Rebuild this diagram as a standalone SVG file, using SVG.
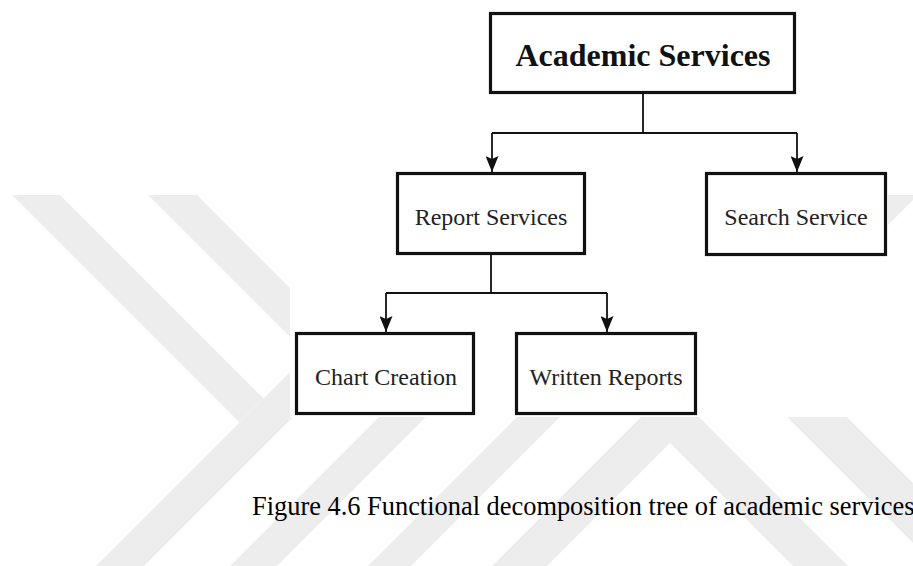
<svg xmlns="http://www.w3.org/2000/svg" width="913" height="566" viewBox="0 0 913 566">
  <defs>
    <style>
      .wm { fill: #ededed; }
      .box { fill: #ffffff; stroke: #111111; stroke-width: 3.2; }
      .lbl { font-family: "Liberation Serif", "Times New Roman", serif; font-size: 24px; fill: #222222; text-anchor: middle; }
      .title { font-family: "Liberation Serif", "Times New Roman", serif; font-size: 32px; font-weight: bold; fill: #111111; text-anchor: middle; }
      .cap { font-family: "Liberation Serif", "Times New Roman", serif; font-size: 26.4px; fill: #000000; }
      .conn { fill: none; stroke: #111111; stroke-width: 1.8; }
    </style>
    <marker id="arrow" markerUnits="userSpaceOnUse" viewBox="0 0 16 13" markerWidth="16" markerHeight="13" refX="16" refY="6.5" orient="auto">
      <path d="M0,0 L16,6.5 L0,13 L3,6.5 Z" fill="#111111"/>
    </marker>
    <clipPath id="wmclip">
      <rect x="0" y="195" width="913" height="371"/>
    </clipPath>
  </defs>

  <rect x="0" y="0" width="913" height="566" fill="#ffffff"/>

  <g id="watermark" clip-path="url(#wmclip)">
    <polygon class="wm" points="12,195 60,195 263.5,398.5 239.5,422.5"/>
    <polygon class="wm" points="467,195 515,195 144,566 96,566"/>
    <polygon class="wm" points="148,195 197,195 419,417 370,417"/>
    <polygon class="wm" points="601,195 648,195 277,566 230,566"/>
    <polygon class="wm" points="739,195 782,195 411,566 368,566"/>
    <polygon class="wm" points="863,195 918,195 547,566 492,566"/>
    <polygon class="wm" points="670,388 848,566 793,566 642.5,415.5"/>
    <polygon class="wm" points="565,195 625,195 913,483 913,543"/>
  </g>
  <rect x="290" y="0" width="598" height="417" fill="#ffffff"/>

  <g id="connectors">
    <path class="conn" d="M643,94 V133 M492,133 H797"/>
    <path class="conn" d="M492,133 V172" marker-end="url(#arrow)"/>
    <path class="conn" d="M797,133 V172" marker-end="url(#arrow)"/>
    <path class="conn" d="M491,255 V293 M386,293 H607"/>
    <path class="conn" d="M386,293 V332" marker-end="url(#arrow)"/>
    <path class="conn" d="M607,293 V332" marker-end="url(#arrow)"/>
  </g>

  <g id="academic-services">
    <rect class="box" x="490.5" y="13.5" width="304" height="79"/>
    <text class="title" x="643" y="66">Academic Services</text>
  </g>
  <g id="report-services">
    <rect class="box" x="397.5" y="173.5" width="187" height="80"/>
    <text class="lbl" x="491" y="225">Report Services</text>
  </g>
  <g id="search-service">
    <rect class="box" x="706.5" y="173.5" width="179" height="81"/>
    <text class="lbl" x="796" y="225">Search Service</text>
  </g>
  <g id="chart-creation">
    <rect class="box" x="296.5" y="333.5" width="177" height="80"/>
    <text class="lbl" x="386" y="385">Chart Creation</text>
  </g>
  <g id="written-reports">
    <rect class="box" x="516.5" y="333.5" width="179" height="80"/>
    <text class="lbl" x="606" y="385">Written Reports</text>
  </g>

  <text class="cap" x="252" y="515">Figure 4.6 Functional decomposition tree of academic services</text>
</svg>
